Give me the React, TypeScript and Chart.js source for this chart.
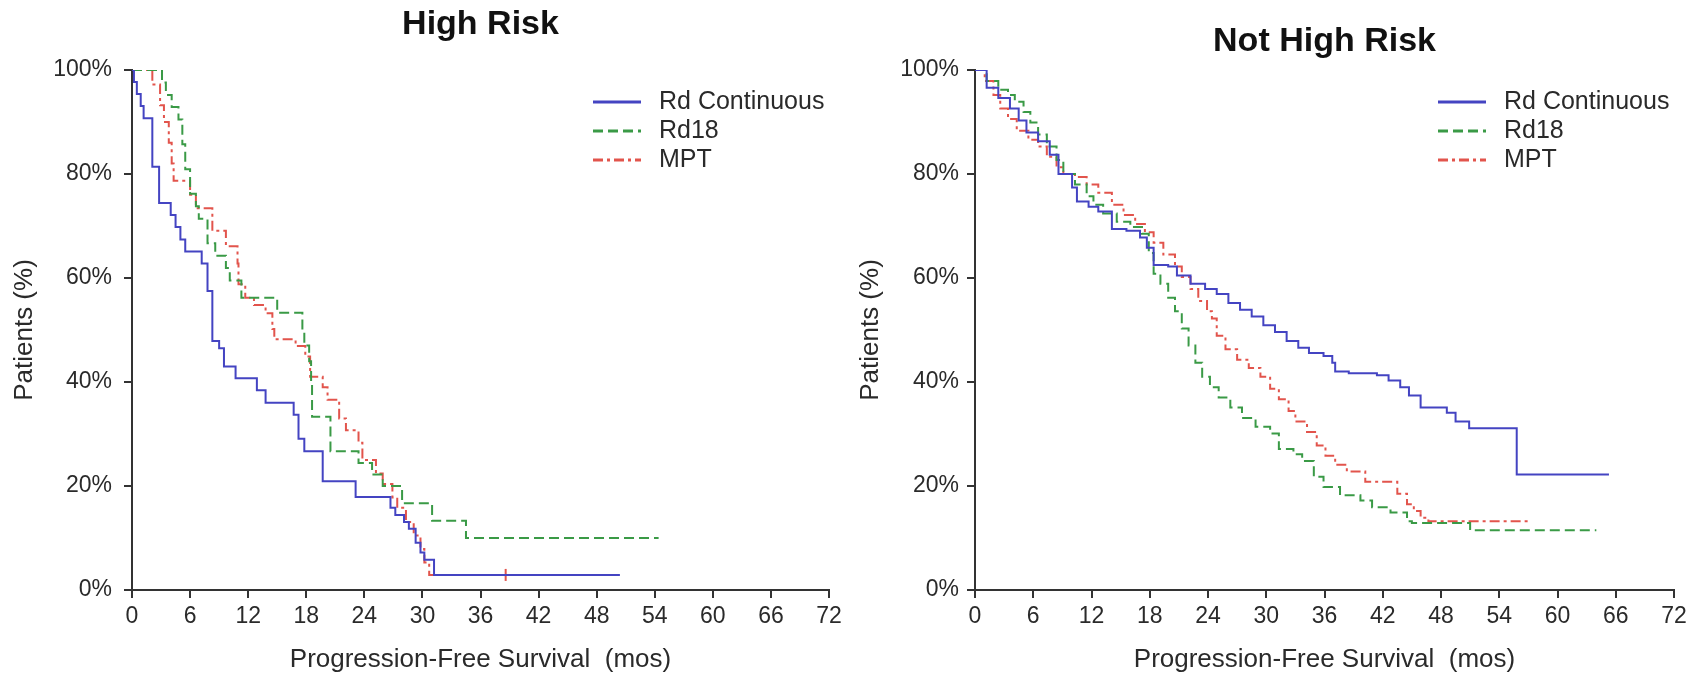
import React, { useEffect, useRef } from 'react';
import { Chart, registerables } from 'chart.js';

Chart.register(...registerables);

// ---------- shared labels / ticks ----------
const seriesLabels = ['Rd Continuous', 'Rd18', 'MPT'];
const seriesColors = ['#4444c2', '#3a9a46', '#e2544c'];
const seriesDashes: number[][] = [[], [10, 5], [10, 4, 3, 4]];
const xTickValues = [0, 6, 12, 18, 24, 30, 36, 42, 48, 54, 60, 66, 72];
const yTickValues = [0, 20, 40, 60, 80, 100];
const xAxisTitle = 'Progression-Free Survival  (mos)';
const yAxisTitle = 'Patients (%)';
const panelTitles = ['High Risk', 'Not High Risk'];

// ---------- High Risk ----------
const hrRdContMonths = [0, 0.2, 0.5, 0.9, 1.2, 2.1, 2.8, 4.0, 4.5, 5.0, 5.5, 7.2, 7.8, 8.3, 9.0, 9.5, 10.7, 12.9, 13.8, 16.7, 17.2, 17.8, 19.7, 23.1, 26.7, 27.2, 28.1, 28.6, 29.3, 29.8, 30.2, 31.2, 50.4];
const hrRdContPct = [100, 97.7, 95.4, 93.1, 90.7, 81.4, 74.4, 72.1, 69.8, 67.4, 65.1, 62.8, 57.5, 47.9, 46.5, 43.0, 40.7, 38.4, 36.0, 33.7, 29.1, 26.7, 20.9, 17.9, 15.8, 14.4, 13.1, 11.8, 9.1, 7.2, 5.8, 2.9, 2.9];

const hrRd18Months = [0, 3.1, 3.5, 4.1, 4.8, 5.2, 5.5, 6.0, 6.6, 6.9, 7.8, 8.6, 9.7, 10.1, 11.3, 15.0, 17.6, 17.8, 18.3, 18.5, 18.6, 20.5, 23.4, 24.8, 25.9, 27.9, 31.0, 34.5, 54.4];
const hrRd18Pct = [100, 97.6, 95.2, 92.9, 90.5, 85.7, 80.9, 76.2, 73.8, 71.4, 66.7, 64.3, 61.9, 59.5, 56.2, 53.3, 50.0, 47.0, 44.0, 40.0, 33.3, 26.7, 24.4, 22.2, 20.0, 16.7, 13.3, 10.0, 10.0];

const hrMptMonths = [0, 2.1, 2.9, 3.3, 3.8, 4.1, 4.3, 6.0, 6.6, 8.3, 9.7, 10.9, 11.0, 11.7, 12.6, 13.8, 14.5, 14.7, 16.9, 17.9, 18.4, 19.7, 20.2, 21.4, 22.1, 23.4, 23.8, 25.2, 25.9, 26.9, 27.4, 28.3, 29.1, 29.8, 30.2, 30.7, 38.6];
const hrMptPct = [100, 97.2, 93.2, 90.0, 86.0, 82.0, 78.7, 76.0, 73.4, 69.1, 66.1, 62.8, 58.8, 56.2, 54.8, 53.2, 50.2, 48.2, 46.9, 44.9, 41.0, 39.0, 36.6, 33.0, 30.7, 28.3, 25.0, 22.4, 20.4, 17.8, 15.8, 13.1, 10.5, 7.9, 5.3, 2.9, 2.9];

// ---------- Not High Risk ----------
const nhrRdContMonths = [0, 1.2, 2.4, 3.6, 4.5, 5.3, 6.5, 7.7, 8.6, 10.0, 10.5, 11.7, 12.7, 14.1, 15.6, 17.0, 17.7, 18.4, 19.9, 20.8, 22.2, 23.7, 24.9, 26.1, 27.3, 28.5, 29.7, 30.9, 32.1, 33.3, 34.4, 35.9, 36.8, 37.1, 38.5, 41.4, 42.6, 43.8, 44.7, 45.9, 48.6, 49.5, 50.9, 55.8, 65.3];
const nhrRdContPct = [100, 96.6, 94.6, 92.6, 90.3, 88.0, 86.3, 83.7, 80.0, 77.4, 74.7, 73.7, 72.8, 69.4, 69.1, 67.8, 65.8, 62.5, 62.2, 60.5, 58.9, 57.9, 56.9, 55.2, 53.9, 52.6, 50.9, 49.6, 47.9, 46.6, 45.6, 45.0, 43.7, 42.0, 41.7, 41.3, 40.3, 39.0, 37.4, 35.1, 34.1, 32.4, 31.1, 22.2, 22.2];

const nhrRd18Months = [0, 1.2, 2.4, 3.4, 4.1, 5.0, 5.7, 6.5, 7.4, 8.4, 9.1, 10.3, 11.5, 12.2, 13.2, 14.6, 16.0, 17.2, 17.9, 18.4, 19.1, 19.9, 20.6, 21.3, 22.0, 22.7, 23.4, 24.2, 25.1, 26.3, 27.5, 28.9, 30.4, 31.3, 32.8, 33.7, 34.9, 35.9, 37.6, 39.7, 40.9, 42.8, 44.5, 45.0, 51.0, 64.0];
const nhrRd18Pct = [100, 97.9, 96.2, 95.2, 93.9, 91.9, 89.9, 87.6, 85.3, 82.7, 80.0, 78.0, 75.7, 74.1, 72.4, 70.8, 69.8, 68.5, 64.8, 60.8, 58.9, 56.2, 53.6, 50.3, 47.0, 43.7, 41.0, 39.0, 37.0, 35.1, 33.1, 31.4, 30.1, 27.1, 26.1, 24.8, 21.8, 19.8, 18.2, 17.2, 15.9, 14.9, 13.2, 12.9, 11.5, 11.5];

const nhrMptMonths = [0, 1.0, 1.9, 2.6, 3.4, 4.3, 5.5, 6.5, 7.4, 8.4, 9.1, 10.3, 11.5, 12.7, 14.1, 15.3, 16.5, 17.5, 18.4, 19.4, 20.6, 21.3, 22.2, 23.0, 23.9, 24.4, 24.9, 25.8, 27.0, 28.2, 29.4, 30.4, 31.3, 32.3, 33.0, 34.2, 35.2, 36.1, 37.1, 38.3, 40.2, 43.5, 44.5, 45.2, 45.9, 46.7, 57.3];
const nhrMptPct = [100, 97.9, 95.2, 92.6, 90.6, 88.3, 86.6, 85.3, 83.3, 81.3, 80.0, 79.4, 78.0, 76.4, 74.1, 72.1, 70.4, 68.8, 66.8, 64.5, 62.2, 60.2, 57.9, 55.6, 53.6, 52.2, 48.9, 46.3, 44.3, 42.7, 41.0, 38.7, 36.7, 34.4, 32.4, 30.4, 27.8, 25.8, 24.1, 22.8, 20.8, 18.5, 16.5, 15.2, 13.9, 13.2, 13.2];

const FONT = '"Liberation Sans", Arial, Helvetica, sans-serif';
const TEXT = '#2a2a2a';
const AXIS = '#333333';

const toPoints = (m: number[], p: number[]) => m.map((t, i) => ({ x: t, y: p[i] }));

const legendPlugin = {
  id: 'kmLegend',
  afterDraw(chart: any) {
    const { ctx, chartArea } = chart;
    const x0 = chartArea.right - 236;
    chart.data.datasets.forEach((ds: any, i: number) => {
      const y = chartArea.top + 32 + i * 29;
      ctx.save();
      ctx.strokeStyle = ds.borderColor;
      ctx.lineWidth = 3;
      ctx.setLineDash(ds.borderDash || []);
      ctx.beginPath();
      ctx.moveTo(x0, y);
      ctx.lineTo(x0 + 48, y);
      ctx.stroke();
      ctx.setLineDash([]);
      ctx.fillStyle = TEXT;
      ctx.font = `25px ${FONT}`;
      ctx.textAlign = 'left';
      ctx.textBaseline = 'middle';
      ctx.fillText(ds.label, x0 + 66, y);
      ctx.restore();
    });
  },
};

type Geom = {
  yWidth: number;
  padRight: number;
  titleTop: number;
  titleBottom: number;
  yTickPad: number;
  yTitlePad: number;
};

function KMPanel({ title, series, geom, endTick }: { title: string; series: { m: number[]; p: number[] }[]; geom: Geom; endTick: boolean[] }) {
  const ref = useRef<HTMLCanvasElement | null>(null);
  useEffect(() => {
    if (!ref.current) return;
    const datasets = series.map((s, i) => {
      const n = s.m.length;
      return {
        label: seriesLabels[i],
        data: toPoints(s.m, s.p),
        borderColor: seriesColors[i],
        backgroundColor: seriesColors[i],
        borderDash: seriesDashes[i],
        borderWidth: 2,
        stepped: 'before' as const,
        fill: false,
        pointStyle: 'line' as const,
        rotation: 90,
        pointRadius: s.m.map((_, k) => (endTick[i] && k === n - 1 ? 6 : 0)),
        pointBorderWidth: 2,
        pointBorderColor: seriesColors[i],
        pointHoverRadius: 0,
      };
    });
    const chart = new Chart(ref.current, {
      type: 'line',
      data: { datasets },
      plugins: [legendPlugin],
      options: {
        animation: false,
        responsive: false,
        devicePixelRatio: 1,
        events: [],
        layout: { padding: { left: 0, right: geom.padRight, top: 0, bottom: 0 } },
        plugins: {
          legend: { display: false },
          tooltip: { enabled: false },
          title: {
            display: true,
            text: title,
            fullSize: false,
            color: '#111',
            font: { family: FONT, size: 34, weight: 'bold', lineHeight: 1.2 },
            padding: { top: geom.titleTop, bottom: geom.titleBottom },
          },
        },
        scales: {
          x: {
            type: 'linear',
            min: 0,
            max: 72,
            afterBuildTicks: (scale: any) => {
              scale.ticks = xTickValues.map((v) => ({ value: v }));
            },
            afterFit: (scale: any) => {
              scale.height = 88;
            },
            ticks: {
              autoSkip: false,
              maxRotation: 0,
              padding: 5,
              color: TEXT,
              font: { family: FONT, size: 23 },
            },
            grid: {
              display: true,
              drawOnChartArea: false,
              drawTicks: true,
              tickLength: 8,
              color: AXIS,
              lineWidth: 2,
            },
            border: { display: true, color: AXIS, width: 2 },
            title: {
              display: true,
              text: xAxisTitle,
              color: TEXT,
              font: { family: FONT, size: 26, lineHeight: 1.2 },
              padding: { top: 0, bottom: 3 },
            },
          },
          y: {
            type: 'linear',
            min: 0,
            max: 100,
            afterBuildTicks: (scale: any) => {
              scale.ticks = yTickValues.map((v) => ({ value: v }));
            },
            afterFit: (scale: any) => {
              scale.width = geom.yWidth;
            },
            ticks: {
              padding: geom.yTickPad,
              color: TEXT,
              font: { family: FONT, size: 23 },
              callback: (v: any) => `${v}%`,
            },
            grid: {
              display: true,
              drawOnChartArea: false,
              drawTicks: true,
              tickLength: 8,
              color: AXIS,
              lineWidth: 2,
            },
            border: { display: true, color: AXIS, width: 2 },
            title: {
              display: true,
              text: yAxisTitle,
              color: TEXT,
              font: { family: FONT, size: 26, lineHeight: 1.2 },
              padding: { top: geom.yTitlePad, bottom: 0 },
            },
          },
        },
      } as any,
    });
    return () => chart.destroy();
  }, []);
  return <canvas ref={ref} width={849} height={678} style={{ width: 849, height: 678, display: 'block' }} />;
}

export default function App() {
  return (
    <div style={{ position: 'absolute', left: 0, top: 0, width: 1698, height: 678, background: '#fff', overflow: 'hidden' }}>
      <div style={{ position: 'absolute', left: 0, top: 0 }}>
        <KMPanel
          title={panelTitles[0]}
          series={[
            { m: hrRdContMonths, p: hrRdContPct },
            { m: hrRd18Months, p: hrRd18Pct },
            { m: hrMptMonths, p: hrMptPct },
          ]}
          endTick={[false, false, true]}
          geom={{ yWidth: 132, padRight: 20, titleTop: 4.6, titleBottom: 24.6, yTickPad: 12, yTitlePad: 9 }}
        />
      </div>
      <div style={{ position: 'absolute', left: 849, top: 0 }}>
        <KMPanel
          title={panelTitles[1]}
          series={[
            { m: nhrRdContMonths, p: nhrRdContPct },
            { m: nhrRd18Months, p: nhrRd18Pct },
            { m: nhrMptMonths, p: nhrMptPct },
          ]}
          endTick={[false, false, false]}
          geom={{ yWidth: 126, padRight: 24, titleTop: 21.6, titleBottom: 7.6, yTickPad: 8, yTitlePad: 6 }}
        />
      </div>
    </div>
  );
}
